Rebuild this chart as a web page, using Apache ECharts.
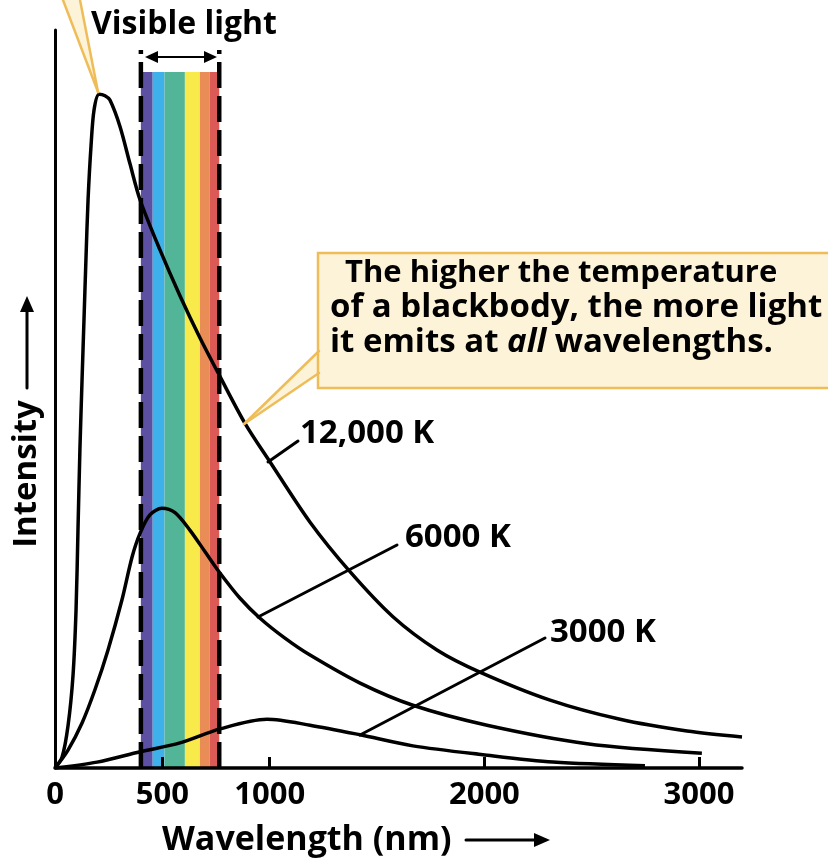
<!DOCTYPE html>
<html>
<head>
<meta charset="utf-8">
<title>Blackbody radiation</title>
<script src="https://cdn.jsdelivr.net/npm/echarts@6/dist/echarts.min.js"></script>
<style>
  html, body { margin: 0; padding: 0; background: #fff; }
  #chart { width: 828px; height: 859px; }
</style>
</head>
<body>
<div id="chart"></div>
<script>
// axis ticks / labels (nm)
const tickValues = [500, 1000, 2000, 3000]
const labelValues = [0, 500, 1000, 2000, 3000]

// visible band, nm
const visibleRange = [400, 765]
const bandEdges = [400, 455, 510, 605, 675, 720, 765]
const bandColors = ['#5b50a2', '#3fb1ea', '#52b597', '#f7ea4a', '#ea8c55', '#dc5a56']

// curves (wavelength nm, relative intensity)
const wave12000 = [0, 33, 61, 84, 98, 107, 116, 126, 135, 144, 154, 168, 182, 205, 233, 256, 303, 349, 396, 489, 582, 675, 764, 885, 1001, 1188, 1374, 1574, 1779, 1979, 2306, 2632, 2944, 3200]
const int12000 = [0, 1.5, 5.8, 12.6, 21.4, 32.2, 43.1, 52.6, 60.7, 68.8, 77.0, 84.4, 89.2, 91.3, 91.1, 90.5, 86.9, 81.9, 77.0, 70.2, 64.0, 58.3, 53.3, 46.7, 41.5, 33.3, 26.6, 20.5, 16.0, 13.0, 9.2, 6.6, 5.0, 4.2]

const wave6000 = [0, 60, 126, 186, 247, 312, 359, 396, 442, 498, 559, 629, 699, 764, 862, 955, 1071, 1188, 1421, 1667, 2012, 2478, 3013]
const int6000 = [0, 2.4, 6.1, 10.6, 16.0, 22.8, 28.6, 31.8, 34.3, 35.2, 34.6, 32.2, 29.3, 26.6, 23.0, 20.3, 17.6, 15.3, 11.5, 8.5, 5.8, 3.3, 2.0]

const wave3000 = [0, 196, 396, 582, 769, 987, 1188, 1421, 1667, 1993, 2320, 2748]
const int3000 = [0, 0.8, 2.2, 3.4, 5.3, 6.6, 5.8, 4.5, 3.0, 1.8, 0.8, 0.3]

const bandTop = 94.3
const dashTop = 97.3

const FONT = '"Open Sans", "Noto Sans", sans-serif'
const cream = '#fdf3d9'
const gold = '#efbd58'

function pairs (xs, ys) {
  return xs.map((x, i) => [x, ys[i]])
}

function curve (name, xs, ys) {
  return {
    name,
    type: 'line',
    data: pairs(xs, ys),
    smooth: 0.3,
    showSymbol: false,
    symbol: 'none',
    z: 4,
    lineStyle: { color: '#000', width: 3.5 }
  }
}

function text (str, x, y, size, align) {
  return {
    type: 'text',
    x,
    y,
    z: 20,
    style: {
      text: str,
      font: 'bold ' + size + 'px ' + FONT,
      fill: '#000',
      align: align || 'left',
      verticalAlign: 'middle',
      textAlign: align || 'left',
      textVerticalAlign: 'middle'
    }
  }
}

function seg (x1, y1, x2, y2, color, width) {
  return {
    type: 'line',
    z: 20,
    shape: { x1, y1, x2, y2 },
    style: { stroke: color, lineWidth: width, lineCap: 'round' }
  }
}

function tri (points) {
  return { type: 'polygon', z: 20, shape: { points }, style: { fill: '#000' } }
}

const chart = echarts.init(document.getElementById('chart'))

const bands = bandColors.map((c, i) => [bandEdges[i], bandEdges[i + 1], i])

chart.setOption({
  animation: false,
  grid: { left: 55, right: 86, top: 30, bottom: 91 },
  xAxis: {
    type: 'value',
    min: 0,
    max: 3200,
    z: 10,
    splitLine: { show: false },
    axisLine: { lineStyle: { color: '#000', width: 3.5 } },
    axisTick: {
      inside: true,
      length: 11,
      customValues: tickValues,
      lineStyle: { color: '#000', width: 3 }
    },
    axisLabel: {
      customValues: labelValues,
      formatter: v => String(v),
      color: '#000',
      fontFamily: FONT,
      fontWeight: 'bold',
      fontSize: 31,
      margin: 12
    }
  },
  yAxis: {
    type: 'value',
    min: 0,
    max: 100,
    z: 10,
    splitLine: { show: false },
    axisLine: { show: true, lineStyle: { color: '#000', width: 3 } },
    axisTick: { show: false },
    axisLabel: { show: false }
  },
  series: [
    {
      type: 'custom',
      z: 1,
      silent: true,
      data: bands,
      renderItem (params, api) {
        const p0 = api.coord([api.value(0), bandTop])
        const p1 = api.coord([api.value(1), 0])
        return {
          type: 'rect',
          shape: { x: p0[0], y: p0[1], width: p1[0] - p0[0], height: p1[1] - p0[1] },
          style: { fill: bandColors[api.value(2)] }
        }
      }
    },
    ...visibleRange.map(v => ({
      type: 'line',
      z: 2,
      silent: true,
      showSymbol: false,
      symbol: 'none',
      data: [[v, 0], [v, dashTop]],
      lineStyle: { color: '#000', width: 4.5, type: [26, 8] }
    })),
    curve('12,000 K', wave12000, int12000),
    curve('6000 K', wave6000, int6000),
    curve('3000 K', wave3000, int3000)
  ],
  graphic: [
    // callout tail top-left (its box is off the picture)
    { type: 'polygon', z: 15, shape: { points: [[63, 0], [80, 0], [98, 92]] }, style: { fill: cream } },
    seg(63, 0, 98, 92, gold, 2.5),
    seg(80, 0, 98, 92, gold, 2.5),

    // callout box
    { type: 'polygon', z: 15, shape: { points: [[320, 351], [320, 373], [244, 424]] }, style: { fill: cream } },
    seg(319, 351, 244, 424, gold, 2.5),
    seg(319, 373, 244, 424, gold, 2.5),
    { type: 'rect', z: 16, shape: { x: 318, y: 253, width: 530, height: 135 }, style: { fill: cream, stroke: gold, lineWidth: 2.5 } },
    text('The higher the temperature', 345, 273, 31),
    text('of a blackbody, the more light', 330, 308, 33),
    {
      type: 'text',
      x: 330,
      y: 343,
      z: 20,
      style: {
        text: 'it emits at {i|all} wavelengths.',
        font: 'bold 33px ' + FONT,
        fill: '#000',
        align: 'left',
        verticalAlign: 'middle',
        textAlign: 'left',
        textVerticalAlign: 'middle',
        rich: { i: { font: 'italic bold 33px ' + FONT, fill: '#000' } }
      }
    },

    // visible light
    text('Visible light', 184, 25, 32, 'center'),
    seg(152, 57, 210, 57, '#000', 2.2),
    tri([[145, 57], [158, 51], [158, 63]]),
    tri([[217, 57], [204, 51], [204, 63]]),

    // curve labels and leaders
    seg(268, 462, 298, 441, '#000', 3),
    text('12,000 K', 300, 434, 33),
    seg(258, 617, 397, 545, '#000', 3),
    text('6000 K', 405, 538, 33),
    seg(360, 735, 545, 638, '#000', 3),
    text('3000 K', 550, 633, 33),

    // axis names
    text('Wavelength (nm)', 162, 840, 34),
    seg(466, 840, 538, 840, '#000', 3),
    tri([[550, 840], [534, 833], [534, 847]]),

    {
      type: 'text',
      x: 27,
      y: 474,
      rotation: Math.PI / 2,
      z: 20,
      style: {
        text: 'Intensity',
        font: 'bold 33px ' + FONT,
        fill: '#000',
        align: 'center',
        verticalAlign: 'middle',
        textAlign: 'center',
        textVerticalAlign: 'middle'
      }
    },
    seg(27, 388, 27, 306, '#000', 3),
    tri([[27, 296], [20, 312], [34, 312]])
  ]
})
</script>
</body>
</html>
